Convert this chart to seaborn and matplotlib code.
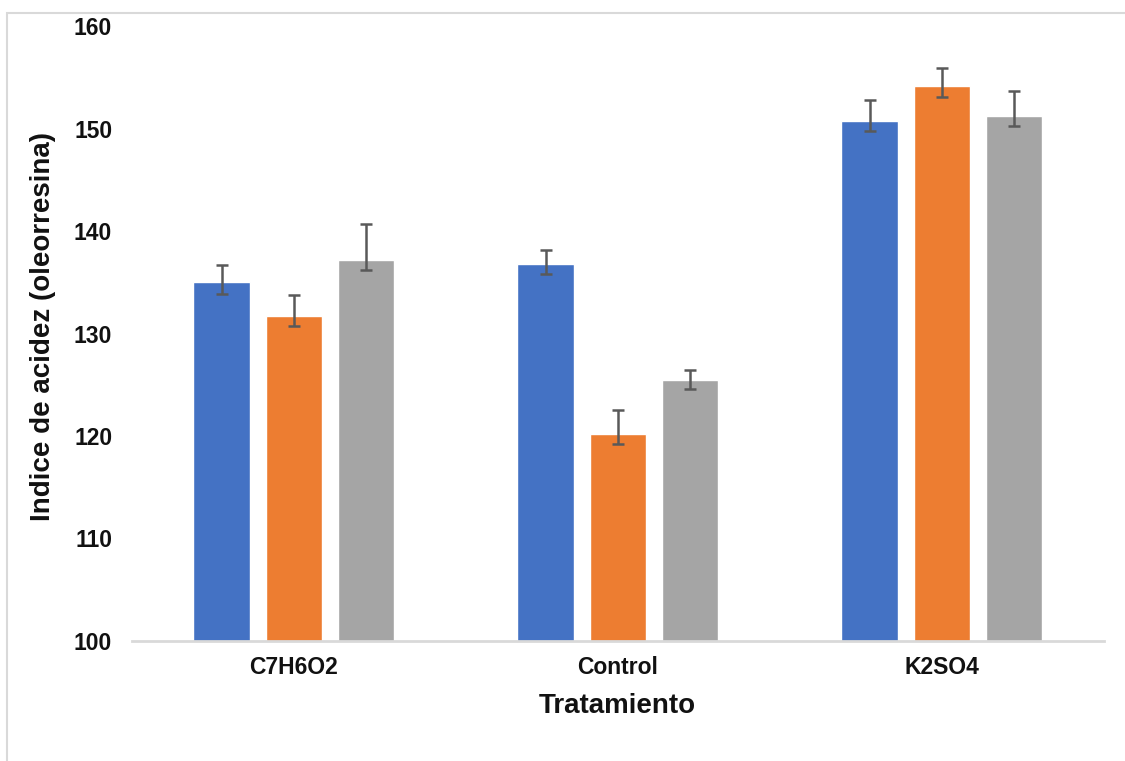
import pandas as pd
import numpy as np
import matplotlib.pyplot as plt
import seaborn as sns
from matplotlib.patches import Rectangle

# Data
tratamientos = ["C7H6O2", "Control", "K2SO4"]
series = ["Serie 1", "Serie 2", "Serie 3"]
valores = {
    "Serie 1": [135.0, 136.8, 150.7],
    "Serie 2": [131.7, 120.2, 154.1],
    "Serie 3": [137.2, 125.5, 151.2],
}
err_sup = {
    "Serie 1": [136.7, 138.1, 152.8],
    "Serie 2": [133.8, 122.5, 155.9],
    "Serie 3": [140.7, 126.4, 153.7],
}
err_inf = {
    "Serie 1": [133.9, 135.8, 149.8],
    "Serie 2": [130.7, 119.2, 153.1],
    "Serie 3": [136.2, 124.6, 150.2],
}
colores = ["#4472C4", "#ED7D31", "#A5A5A5"]

rows = []
for s in series:
    for t, v in zip(tratamientos, valores[s]):
        rows.append({"Tratamiento": t, "serie": s, "valor": v})
df = pd.DataFrame(rows)

sns.set_style("white")
plt.rcParams['font.family'] = ['Liberation Sans', 'DejaVu Sans']
plt.rcParams['text.color'] = '#111111'
plt.rcParams['axes.labelcolor'] = '#111111'
plt.rcParams['xtick.color'] = '#111111'
plt.rcParams['ytick.color'] = '#111111'

fig = plt.figure(figsize=(11.25, 7.61), dpi=100)
ax = fig.add_axes([0.117, 0.1577, 0.864, 0.8081])

sns.barplot(data=df, x="Tratamiento", y="valor", hue="serie", order=tratamientos,
            hue_order=series, palette=colores, width=0.667, gap=0.22,
            errorbar=None, legend=False, saturation=1, ax=ax)

# error bars on top of each bar
for s, cont in zip(series, ax.containers):
    xs = [b.get_x() + b.get_width() / 2 for b in cont]
    hs = np.array([b.get_height() for b in cont])
    lo = hs - np.array(err_inf[s])
    hi = np.array(err_sup[s]) - hs
    ax.errorbar(xs, hs, yerr=[lo, hi], fmt="none", ecolor="#595959",
                elinewidth=1.8, capsize=4, capthick=1.8)

ax.set_ylim(100, 160)
ax.set_xlim(-0.5, 2.5)
ax.set_yticks([100, 110, 120, 130, 140, 150, 160])
ax.tick_params(axis="y", length=0, pad=14, labelsize=16.5)
ax.tick_params(axis="x", length=0, pad=11, labelsize=16.5)
for lab in ax.get_xticklabels() + ax.get_yticklabels():
    lab.set_fontweight("bold")

ax.set_ylabel("Indice de acidez (oleorresina)", fontsize=20, fontweight="bold")
ax.yaxis.set_label_coords(-0.078, 0.512)
ax.set_xlabel("Tratamiento", fontsize=20, fontweight="bold", labelpad=10)

for side in ["top", "right", "left"]:
    ax.spines[side].set_visible(False)
ax.spines["bottom"].set_color("#d9d9d9")
ax.spines["bottom"].set_linewidth(2)

# light chart-area border (only left and top edges visible in the reference)
fig.patches.append(Rectangle((0.0065, -0.1), 1.2, 1.1 - 13 / 761, transform=fig.transFigure,
                             fill=False, edgecolor="#d9d9d9", linewidth=1.5))

fig.savefig("out.png", dpi=100)
